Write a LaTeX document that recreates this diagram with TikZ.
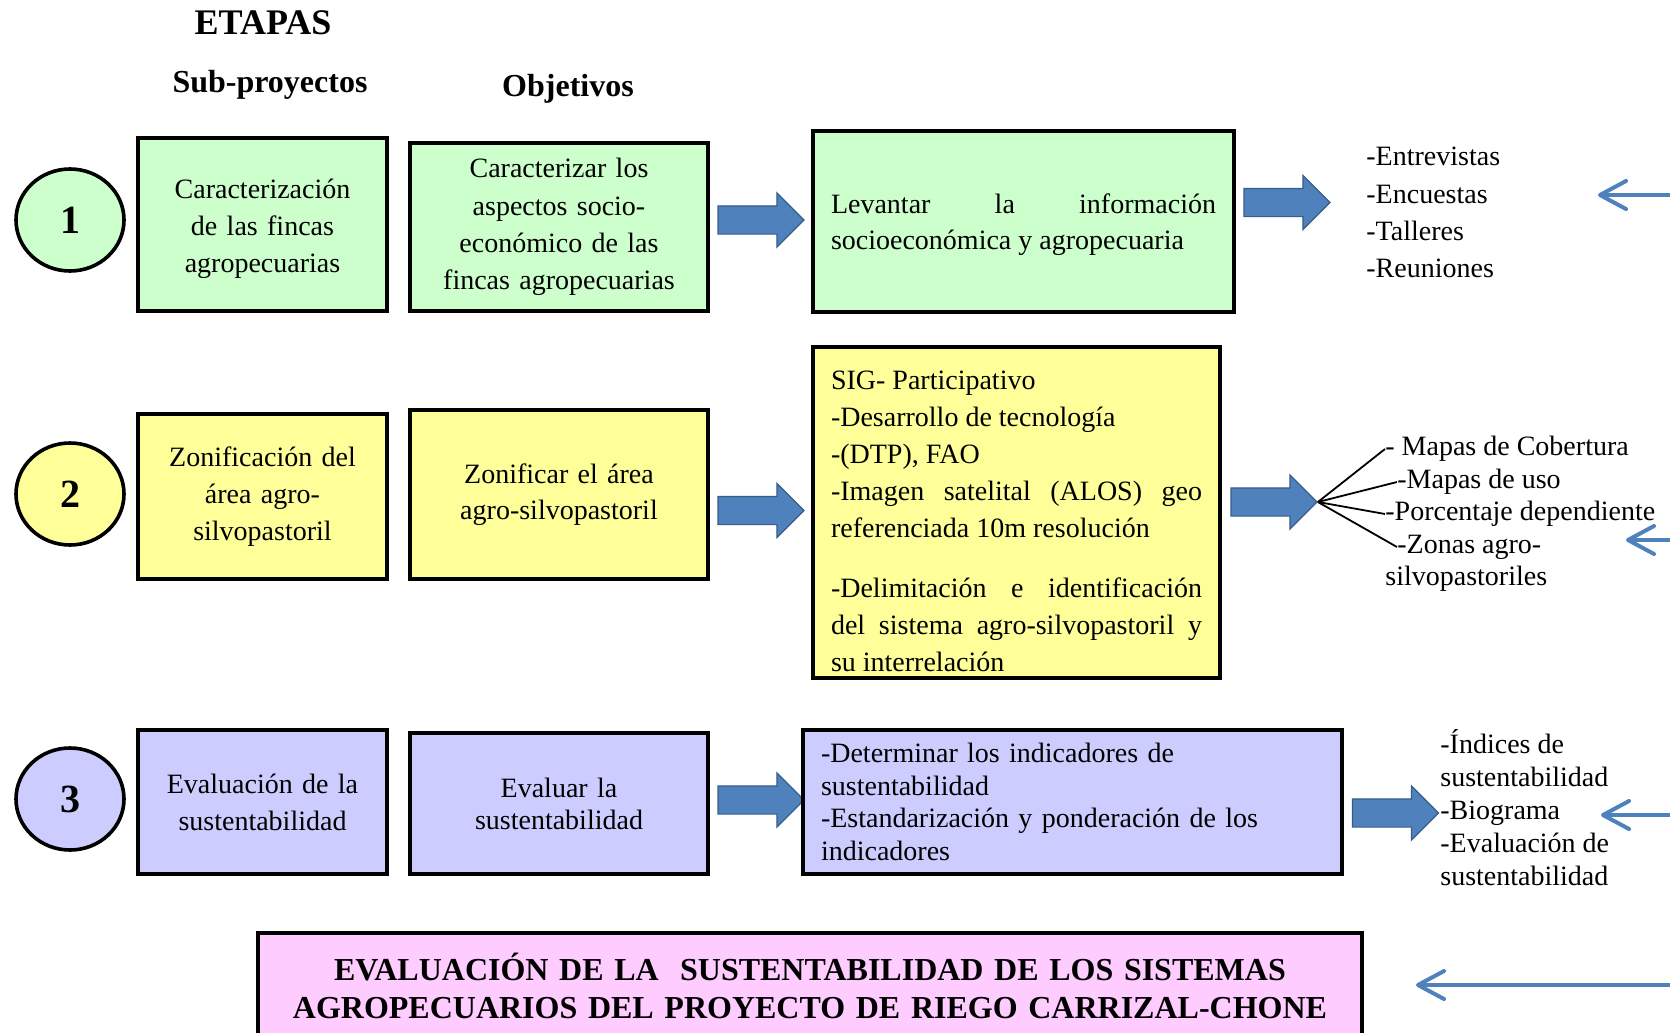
\documentclass[tikz,border=0pt]{standalone}
\usepackage{fontspec}
\setmainfont{Liberation Serif}
\usepackage{tikz}
\usetikzlibrary{shapes,arrows.meta}
\definecolor{boxgreen}{RGB}{204,255,204}
\definecolor{boxyellow}{RGB}{255,255,153}
\definecolor{boxlilac}{RGB}{204,204,255}
\definecolor{boxpink}{RGB}{255,204,255}
\definecolor{arrowblue}{RGB}{79,129,189}
\definecolor{arrowedge}{RGB}{56,93,138}
\tikzstyle{titulo} = [inner sep=0pt, font=\fontsize{16}{19}\selectfont\bfseries]
\tikzstyle{etapa} = [draw, ellipse, line width=1.8pt, minimum width=54pt, minimum height=51pt, inner sep=0pt, font=\fontsize{20}{24}\selectfont\bfseries]
\tikzstyle{caja} = [draw, rectangle, line width=1.6pt, inner xsep=9pt, inner ysep=0pt, align=center, font=\fontsize{14}{18.6}\selectfont]
\tikzstyle{flecha} = [single arrow, draw=arrowedge, fill=arrowblue, line width=0.6pt, minimum height=43pt, single arrow head extend=6.5pt, inner xsep=0pt, inner ysep=6.75pt]
\tikzstyle{lista} = [align=left, inner sep=0pt, anchor=west, font=\fontsize{14}{16.5}\selectfont]
\tikzstyle{abanico} = [draw, line width=0.9pt]
\tikzstyle{retorno} = [draw=arrowblue, line width=2pt, line cap=round, -{Straight Barb[round, length=13pt, width=14pt]}]

\begin{document}
\begin{tikzpicture}[x=0.5pt, y=-0.5pt]
	\useasboundingbox (0,0) rectangle (1670,1033);
	\clip (0,0) rectangle (1670,1033);
	\node[titulo, font=\fontsize{18}{22}\selectfont\bfseries] (etapas) at (263,23) {ETAPAS};
	\node[titulo] (subp) at (270,85) {Sub-proyectos};
	\node[titulo] (objet) at (568,89) {Objetivos};

	% etapa 1
	\node[etapa, fill=boxgreen] (c1) at (70,220) {1};
	\node[caja, fill=boxgreen, text width=106.5pt, minimum height=86.5pt] (s1) at (262.5,224.5) {\rule{0pt}{14pt}Caracterización\\de las fincas\\agropecuarias};
	\node[caja, fill=boxgreen, text width=131pt, minimum height=84pt] (o1) at (559,227) {Caracterizar los\\aspectos socio-\\económico de las\\fincas agropecuarias};
	\node[flecha] (a1) at (754,220) {};
	\node[caja, fill=boxgreen, text width=192.5pt, minimum height=90.5pt, align=justify, font=\fontsize{14}{18}\selectfont] (l1) at (1023.5,221.5) {\rule{0pt}{13pt}Levantar la información\linebreak socioeconómica y agropecuaria};
	\node[flecha] (b1) at (1280,202.5) {};
	\node[lista, font=\fontsize{14}{18.6}\selectfont] (r1) at (1366,212.5) {-Entrevistas\\-Encuestas\\-Talleres\\-Reuniones};

	% etapa 2
	\node[etapa, fill=boxyellow] (c2) at (70,494) {2};
	\node[caja, fill=boxyellow, text width=106.5pt, minimum height=82.5pt] (s2) at (262.5,496.5) {Zonificación del\\área agro-\\silvopastoril};
	\node[caja, fill=boxyellow, text width=131pt, minimum height=84.5pt, font=\fontsize{14}{18}\selectfont] (o2) at (559,494.5) {Zonificar el área\\agro-silvopastoril};
	\node[flecha] (a2) at (754,510.5) {};
	\node[caja, fill=boxyellow, text width=185.5pt, minimum height=165.5pt, align=justify] (l2) at (1016.5,512.5) {\rule{0pt}{18pt}SIG- Participativo\newline
		-Desarrollo de tecnología\newline
		-(DTP), FAO\newline
		-Imagen satelital (ALOS) geo\linebreak referenciada 10m resolución\par\vspace{11pt}
		-Delimitación e identificación\linebreak del sistema agro-silvopastoril y\linebreak su interrelación};
	\node[flecha] (b2) at (1267,502) {};
	\node[lista] (m1) at (1385,449) {- Mapas de Cobertura};
	\node[lista] (m2) at (1397,482) {-Mapas de uso};
	\node[lista] (m3) at (1385,514) {-Porcentaje dependiente};
	\node[lista] (m4) at (1397,547) {-Zonas agro-};
	\node[lista] (m5) at (1385,579) {silvopastoriles};
	\path [abanico] (b2.tip) -- (m1.west);
	\path [abanico] (b2.tip) -- (m2.west);
	\path [abanico] (b2.tip) -- (m3.west);
	\path [abanico] (b2.tip) -- (m4.west);

	% etapa 3
	\node[etapa, fill=boxlilac] (c3) at (70,799) {3};
	\node[caja, fill=boxlilac, text width=106.5pt, minimum height=72pt] (s3) at (262.5,802) {Evaluación de la\\sustentabilidad};
	\node[caja, fill=boxlilac, text width=131pt, minimum height=70.5pt, font=\fontsize{14}{16}\selectfont] (o3) at (559,803.5) {Evaluar la\\sustentabilidad};
	\node[flecha] (a3) at (754,800) {};
	\node[caja, fill=boxlilac, text width=251.5pt, minimum height=72pt, align=left, font=\fontsize{14}{16.3}\selectfont] (l3) at (1072.5,802) {-Determinar los indicadores de\\sustentabilidad\\-Estandarización y ponderación de los\\indicadores};
	\node[flecha] (b3) at (1388.5,813) {};
	\node[lista] (r3) at (1440,807.5) {-Índices de\\sustentabilidad\\-Biograma\\-Evaluación de\\sustentabilidad};

	% resultado
	\node[caja, fill=boxpink, text width=534pt, minimum height=53pt, font=\fontsize{16}{18.6}\selectfont\bfseries] (ev) at (810,986) {EVALUACIÓN DE LA\ \ SUSTENTABILIDAD DE LOS SISTEMAS\\AGROPECUARIOS DEL PROYECTO DE RIEGO CARRIZAL-CHONE};

	\coordinate (t1s) at (1670,195);
	\coordinate (t1e) at (1598,195);
	\coordinate (t2s) at (1670,540);
	\coordinate (t2e) at (1626,540);
	\coordinate (t3s) at (1670,815);
	\coordinate (t3e) at (1601,815);
	\coordinate (t4s) at (1670,985);
	\coordinate (t4e) at (1416,985);
	\path [retorno] (t1s) -- (t1e);
	\path [retorno] (t2s) -- (t2e);
	\path [retorno] (t3s) -- (t3e);
	\path [retorno] (t4s) -- (t4e);
\end{tikzpicture}
\end{document}
